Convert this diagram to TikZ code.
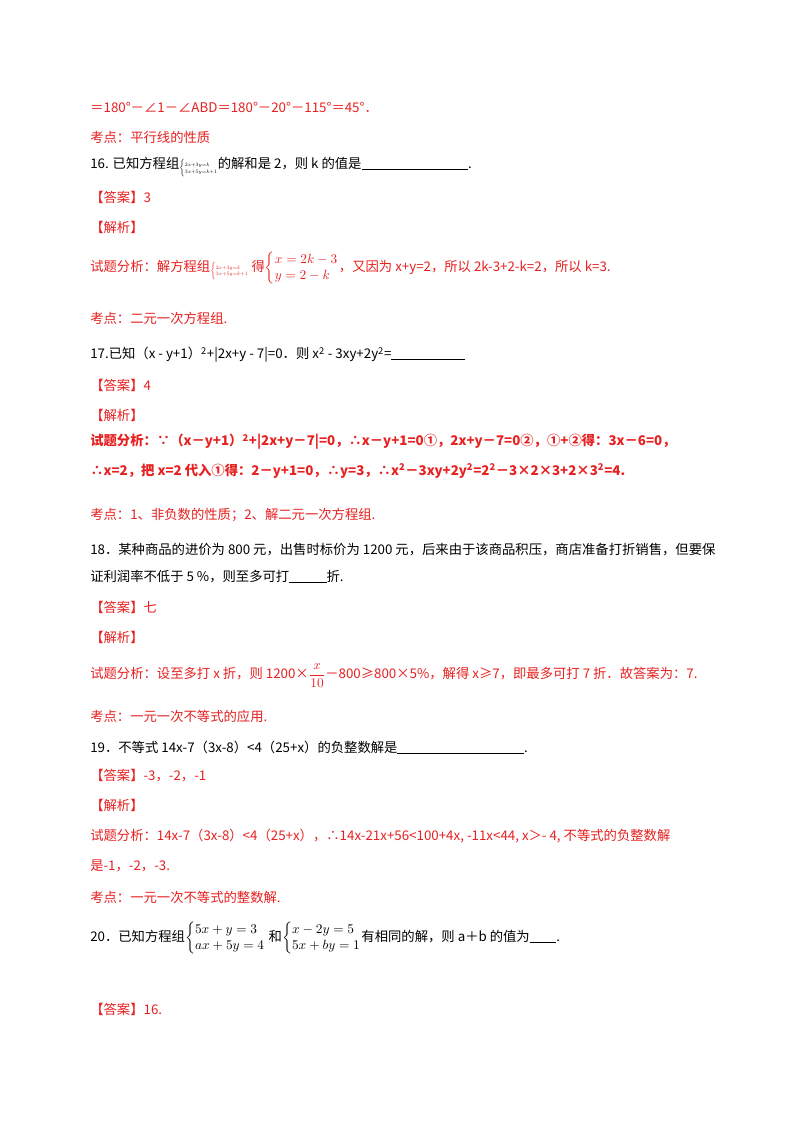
\documentclass[tikz,border=0pt]{standalone}
\usepackage{fontspec}
\usepackage{amsmath}
\usepackage{graphicx}
\setmainfont{Liberation Serif}
\newfontfamily\cjk{Noto Sans CJK SC}
\definecolor{ansred}{RGB}{232,32,32}
\tikzset{
  txt/.style={anchor=west,inner sep=0pt,font=\cjk\fontsize{10}{12}\selectfont},
  red txt/.style={txt,text=ansred},
  bold red/.style={red txt,font=\cjk\bfseries\fontsize{10}{12}\selectfont}
}
\newcommand{\blank}[1]{\rule[-1pt]{#1}{0.6pt}}
\newcommand{\tinysys}[2]{\raisebox{-1pt}{\scalebox{0.55}{$\left\{\begin{array}{@{}l@{}}\scriptstyle #1\\[-3pt]\scriptstyle #2\end{array}\right.$}}}
\begin{document}
\begin{tikzpicture}[x=0.75pt,y=-0.75pt]
\useasboundingbox[fill=white] (0,0) rectangle (800,1132);
\node[red txt] (l1) at (90,107) {＝180°－∠1－∠ABD＝180°－20°－115°＝45°．};
\node[red txt] (k15) at (90,137) {考点：平行线的性质};
\node[txt] (q16) at (90,167) {16. 已知方程组\tinysys{2x+3y=k}{3x+5y=k+1}的解和是 2，则 k 的值是\blank{80pt}.};
\node[red txt] (a16) at (90,197) {【答案】3};
\node[red txt] (j16) at (90,227) {【解析】};
\node[red txt] (s16) at (90,268) {试题分析：解方程组\tinysys{2x+3y=k}{3x+5y=k+1}\ 得$\left\{\begin{array}{@{}l@{}}x=2k-3\\ y=2-k\end{array}\right.$，又因为 x+y=2，所以 2k-3+2-k=2，所以 k=3.};
\node[red txt] (k16) at (90,318) {考点：二元一次方程组.};
\node[txt] (q17) at (90,355) {17.已知（x - y+1）\textsuperscript{2}+|2x+y - 7|=0．则 x\textsuperscript{2} - 3xy+2y\textsuperscript{2}=\blank{55pt}};
\node[red txt] (a17) at (90,385) {【答案】4};
\node[red txt] (j17) at (90,415) {【解析】};
\node[bold red] (s17a) at (90,442) {试题分析：∵（x－y+1）\textsuperscript{2}+|2x+y－7|=0，∴x－y+1=0①，2x+y－7=0②，①+②得：3x－6=0，};
\node[bold red] (s17b) at (90,471) {∴x=2，把 x=2 代入①得：2－y+1=0，∴y=3，∴x\textsuperscript{2}－3xy+2y\textsuperscript{2}=2\textsuperscript{2}－3×2×3+2×3\textsuperscript{2}=4.};
\node[red txt] (k17) at (90,515) {考点：1、非负数的性质；2、解二元一次方程组.};
\node[txt] (q18a) at (90,550) {18．某种商品的进价为 800 元，出售时标价为 1200 元，后来由于该商品积压，商店准备打折销售，但要保};
\node[txt] (q18b) at (90,577) {证利润率不低于 5 \%，则至多可打\blank{28pt}折.};
\node[red txt] (a18) at (90,607) {【答案】七};
\node[red txt] (j18) at (90,637) {【解析】};
\node[red txt] (s18) at (90,676) {试题分析：设至多打 x 折，则 1200×$\dfrac{x}{10}$－800≥800×5\%，解得 x≥7，即最多可打 7 折．故答案为：7.};
\node[red txt] (k18) at (90,716) {考点：一元一次不等式的应用.};
\node[txt] (q19) at (90,747) {19．不等式 14x-7（3x-8）<4（25+x）的负整数解是\blank{95pt}.};
\node[red txt] (a19) at (90,776) {【答案】-3，-2，-1};
\node[red txt] (j19) at (90,805) {【解析】};
\node[red txt] (s19a) at (90,836) {试题分析：14x-7（3x-8）<4（25+x），∴14x-21x+56<100+4x, -11x<44, x＞- 4, 不等式的负整数解};
\node[red txt] (s19b) at (90,866) {是-1，-2，-3.};
\node[red txt] (k19) at (90,897) {考点：一元一次不等式的整数解.};
\node[txt] (q20) at (90,938) {20．已知方程组$\left\{\begin{array}{@{}l@{}}5x+y=3\\ ax+5y=4\end{array}\right.$ 和$\left\{\begin{array}{@{}l@{}}x-2y=5\\ 5x+by=1\end{array}\right.$有相同的解，则 a＋b 的值为\blank{20pt}.};
\node[red txt] (a20) at (90,1009) {【答案】16.};
\end{tikzpicture}
\end{document}
